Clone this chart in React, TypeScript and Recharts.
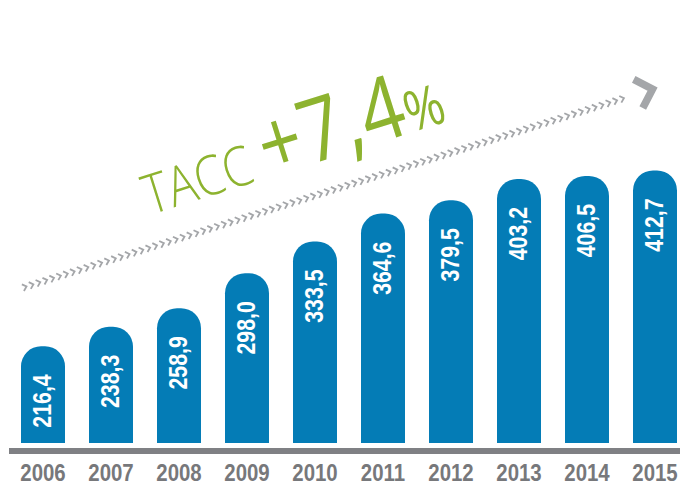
import { BarChart, Bar, XAxis, YAxis, LabelList } from "recharts";

const years = ["2006", "2007", "2008", "2009", "2010", "2011", "2012", "2013", "2014", "2015"];
const values = [216.4, 238.3, 258.9, 298.0, 333.5, 364.6, 379.5, 403.2, 406.5, 412.7];
const growthLabel = "TACC";
const growthValue = "+7,4";

const data = years.map((year, i) => ({ year, value: values[i] }));

const SANS = "'Liberation Sans', Arial, sans-serif";
const LIGHT = "'Open Sans', 'Liberation Sans', sans-serif";
const BLUE = "#047cb6";
const GREEN = "#8db32f";
const CHEVRON = "#a4a6a9";
const BAND = 68;

const fmt = (v: number) => v.toFixed(1).replace(".", ",");

function ValueLabel(props: any) {
  const { x, y, width, value } = props;
  const cx = x + width / 2 + 8;
  const top = y + 28;
  return (
    <text
      transform={`translate(${cx} ${top}) rotate(-90) scale(0.82 1)`}
      textAnchor="end"
      fill="#fff"
      fontFamily={SANS}
      fontWeight="bold"
      fontSize={26}
    >
      {fmt(Number(value))}
    </text>
  );
}

// year label plus this category's piece of the grey base rule
function YearTick(props: any) {
  const { x, y, payload } = props;
  return (
    <g>
      <rect x={x - BAND / 2} y={y + 3} width={BAND} height={6} fill="#7f8084" />
      <text
        transform={`translate(${x} ${y + 35.5}) scale(0.85 1)`}
        textAnchor="middle"
        fill="#77787b"
        fontFamily={SANS}
        fontWeight="bold"
        fontSize={24}
      >
        {payload.value}
      </text>
    </g>
  );
}

// chevron trend arrow with the growth rate above it
function Trend() {
  const step = 7.2;
  const marks = [];
  for (let u = 0; u <= 632; u += step) {
    marks.push(
      <polyline
        key={u}
        points={`${u - 2.2},-3.5 ${u + 1.6},0 ${u - 2.2},3.5`}
        fill="none"
        stroke={CHEVRON}
        strokeWidth={1.8}
      />
    );
  }
  return (
    <g>
      <g transform="translate(25 287) rotate(-17.5)">
        {marks}
        <polyline
          points="643,-15 658,0 643,15"
          fill="none"
          stroke={CHEVRON}
          strokeWidth={7.5}
          strokeLinejoin="miter"
        />
      </g>
      <text
        transform="translate(150 215) rotate(-17.5) scale(0.86 1)"
        fill={GREEN}
        fontFamily={LIGHT}
      >
        <tspan fontSize={55} fontWeight={300}>{growthLabel} </tspan>
        <tspan fontSize={88} fontWeight={400}>{growthValue}</tspan>
        <tspan fontSize={56} fontWeight={400}>%</tspan>
      </text>
    </g>
  );
}

export default function App() {
  return (
    <div style={{ position: "absolute", left: 0, top: 0, width: 680, height: 492, overflow: "hidden", background: "#fff" }}>
      <BarChart
        width={700}
        height={492}
        data={data}
        margin={{ top: 43, right: 11, left: 9, bottom: 0 }}
      >
        <XAxis
          dataKey="year"
          height={49}
          axisLine={false}
          tickLine={false}
          tickSize={0}
          tick={<YearTick />}
          interval={0}
        />
        <YAxis hide domain={[108.5, 554.9]} />
        <Bar dataKey="value" fill={BLUE} barSize={44} radius={[20, 20, 0, 0]} isAnimationActive={false}>
          <LabelList dataKey="value" content={<ValueLabel />} />
        </Bar>
        <Trend />
      </BarChart>
    </div>
  );
}
